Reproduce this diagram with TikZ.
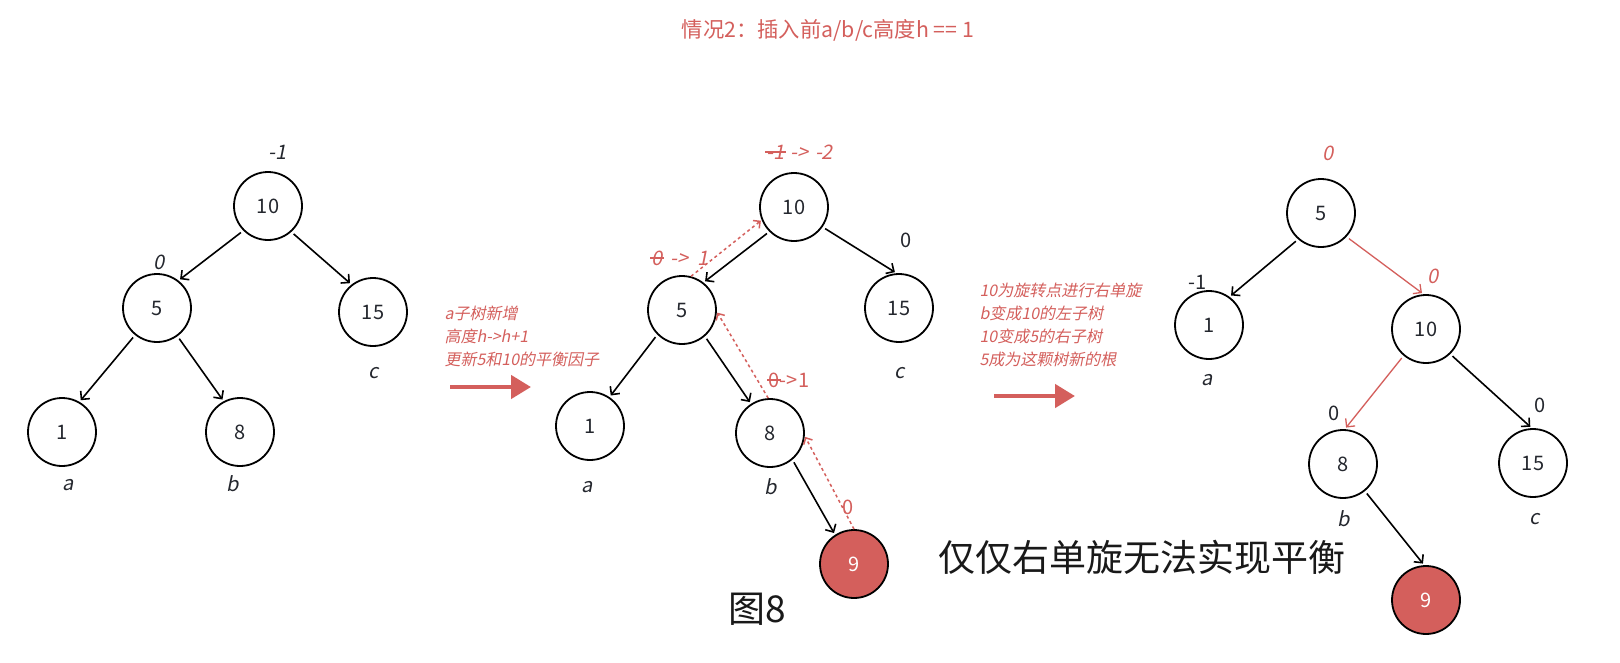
\documentclass[tikz,border=0pt]{standalone}
\usepackage{fontspec}
\setmainfont{Noto Sans CJK SC}[AutoFakeSlant=0.2]
\usepackage{xcolor}
\usetikzlibrary{arrows.meta}

\definecolor{avlred}{HTML}{D45F5C}
\definecolor{avlink}{HTML}{24272E}

\newcommand{\strk}[1]{\setbox0=\hbox{#1}\rlap{\kern-1.5pt\rule[0.33em]{\dimexpr\wd0+3pt\relax}{0.07em}}\box0}

\tikzset{
  treekey/.style={circle,draw=black,line width=1.8pt,minimum size=68pt,inner sep=0pt,
    text=avlink,font=\fontsize{20}{24}\selectfont},
  newkey/.style={treekey,fill=avlred,text=white},
  treelink/.style={line width=1.6pt,shorten <=3pt,shorten >=2pt,
    -{Straight Barb[length=6pt,width=12pt]}},
  redlink/.style={treelink,draw=avlred,line width=1.3pt},
  trace/.style={draw=avlred,line width=1.5pt,dash pattern=on 3pt off 3pt,shorten >=1pt,
    -{Straight Barb[length=5pt,width=10pt]}},
  balance/.style={text=avlink,font=\fontsize{20}{24}\selectfont},
  redbalance/.style={balance,text=avlred},
  subtree/.style={text=avlink,font=\fontsize{20}{24}\selectfont\itshape},
  notetext/.style={text=avlred,align=left,anchor=base west,font=\fontsize{16}{23}\selectfont\itshape},
  bigarrow/.style={draw=avlred,line width=4.5pt,-{Triangle[length=20pt,width=23pt]}},
}

\begin{document}
\begin{tikzpicture}[x=1pt,y=-1pt]
  \path[use as bounding box,fill=white] (0,0) rectangle (1620,662);
  \node[text=avlred,font=\fontsize{21.3}{25}\selectfont] (title) at (828,30) {情况2：插入前a/b/c高度h == 1};

  % before insertion
  \node[treekey] (L10) at (268,206) {10};
  \node[treekey] (L5)  at (157,308) {5};
  \node[treekey] (L15) at (373,312) {15};
  \node[treekey] (L1)  at (62,432) {1};
  \node[treekey] (L8)  at (240,432) {8};
  \draw[treelink] (L10.225) -- (L5.52);
  \draw[treelink] (L10.312) -- (L15.128);
  \draw[treelink] (L5.231) -- (L1.60);
  \draw[treelink] (L5.306) -- (L8.118);
  \node[subtree] (L10f) at (278,152) {-1};
  \node[subtree] (L5f)  at (159,262) {0};
  \node[subtree] (La) at (68,485) {a};
  \node[subtree] (Lb) at (233,484) {b};
  \node[subtree] (Lc) at (374,373) {c};

  % base = last line
  \node[notetext] (N1) at (441,365) {a子树新增\\高度h->h+1\\更新5和10的平衡因子};
  \coordinate (A1s) at (450,387);
  \coordinate (A1e) at (531,387);
  \draw[bigarrow] (A1s) -- (A1e);

  % after insertion of 9
  \node[treekey] (M10) at (794,207) {10};
  \node[treekey] (M5)  at (682,310) {5};
  \node[treekey] (M15) at (899,308) {15};
  \node[treekey] (M1)  at (590,426) {1};
  \node[treekey] (M8)  at (770,433) {8};
  \node[newkey]  (M9)  at (854,564) {9};
  \draw[treelink] (M10.225) -- (M5.52);
  \draw[treelink] (M10.325) -- (M15.94);
  \draw[treelink] (M5.225) -- (M1.56);
  \draw[treelink] (M5.311) -- (M8.123);
  \draw[treelink] (M8.310) -- (M9.123);
  \draw[trace] (M5.75) -- (M10.202);
  \draw[trace] (M8.93) -- (M5.357);
  \draw[trace] (M9.90) -- (M8.355);
  \node[subtree,text=avlred] (M10f) at (800,152) {\strk{-1}\hspace{0.3em}->\hspace{0.3em}-2};
  \node[balance] (M15f) at (906,240) {0};
  \node[subtree,text=avlred] (M5f) at (680,258) {\strk{0}\hspace{0.4em}->\hspace{0.4em}1};
  \node[redbalance] (M8f) at (789,380) {\strk{0}->1};
  \node[redbalance] (M9f) at (848,507) {0};
  \node[subtree] (Ma) at (587,487) {a};
  \node[subtree] (Mb) at (771,487) {b};
  \node[subtree] (Mc) at (900,373) {c};
  \node[font=\fontsize{37}{44}\selectfont,text=black!90] (fig) at (757,609) {图8};

  \node[notetext] (N2) at (976,365) {10为旋转点进行右单旋\\b变成10的左子树\\10变成5的右子树\\5成为这颗树新的根};
  \coordinate (A2s) at (994,396);
  \coordinate (A2e) at (1075,396);
  \draw[bigarrow] (A2s) -- (A2e);

  % after right rotation
  \node[treekey] (R5)  at (1321,213) {5};
  \node[treekey] (R1)  at (1209,325) {1};
  \node[treekey] (R10) at (1426,329) {10};
  \node[treekey] (R8)  at (1343,464) {8};
  \node[treekey] (R15) at (1533,463) {15};
  \node[newkey]  (R9)  at (1426,600) {9};
  \draw[treelink] (R5.229) -- (R1.54);
  \draw[redlink] (R5.317) -- (R10.94);
  \draw[redlink] (R10.230) -- (R8.87);
  \draw[treelink] (R10.314) -- (R15.92);
  \draw[treelink] (R8.309) -- (R9.93);
  \node[subtree,text=avlred] (R5f) at (1328,153) {0};
  \node[balance] (R1f) at (1198,282) {-1};
  \node[subtree,text=avlred] (R10f) at (1433,276) {0};
  \node[balance] (R8f) at (1334,413) {0};
  \node[balance] (R15f) at (1540,405) {0};
  \node[subtree] (Ra) at (1207,380) {a};
  \node[subtree] (Rb) at (1344,519) {b};
  \node[subtree] (Rc) at (1535,519) {c};

  \node[font=\fontsize{37}{44}\selectfont,text=black!90] (verdict) at (1142,557) {仅仅右单旋无法实现平衡};
\end{tikzpicture}
\end{document}
